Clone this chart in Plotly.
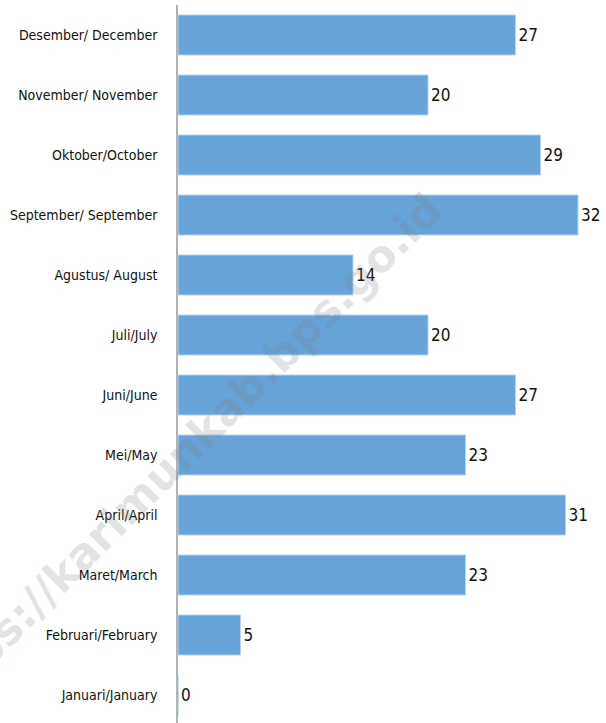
import plotly.graph_objects as go

months = ["Januari/January", "Februari/February", "Maret/March", "April/April",
          "Mei/May", "Juni/June", "Juli/July", "Agustus/ August",
          "September/ September", "Oktober/October", "November/ November",
          "Desember/ December"]
values = [0, 5, 23, 31, 23, 27, 20, 14, 32, 29, 20, 27]

FONT = "DejaVu Sans Condensed, Liberation Sans Narrow, sans-serif"

fig = go.Figure(go.Bar(
    y=months, x=values, orientation="h",
    marker=dict(color="#66a4da", line=dict(color="#b7d3ec", width=1)),
    width=0.667,
    text=[str(v) for v in values], textposition="outside",
    textfont=dict(family=FONT, size=17, color="#111111"),
    cliponaxis=False,
))

fig.update_layout(
    width=606, height=723,
    margin=dict(l=178, r=0, t=5, b=0, autoexpand=False),
    paper_bgcolor="white", plot_bgcolor="white",
    showlegend=False,
    font=dict(family=FONT, color="#111111"),
    xaxis=dict(range=[0, 34.24], visible=False, fixedrange=True,
               automargin=False),
    yaxis=dict(type="category", categoryorder="array", categoryarray=months,
               range=[-0.4667, 11.5], showline=True, linecolor="#b3b3b3",
               linewidth=1.5, showgrid=False, zeroline=False, ticks="",
               ticklabelstandoff=16, automargin=False,
               tickfont=dict(family=FONT, size=14, color="#111111")),
    annotations=[dict(
        text="<b>https://karimunkab.bps.go.id</b>", xref="paper", yref="paper",
        x=(178 - 178) / 428, y=(723 - 457) / 718, showarrow=False,
        xanchor="center", yanchor="middle",
        textangle=-45, font=dict(family="DejaVu Sans, sans-serif",
                                 size=44, color="rgba(130,130,130,0.22)"),
    )],
)

fig.write_html("out.html", config={"displayModeBar": False},
               post_script="document.body.style.margin='0px';")
